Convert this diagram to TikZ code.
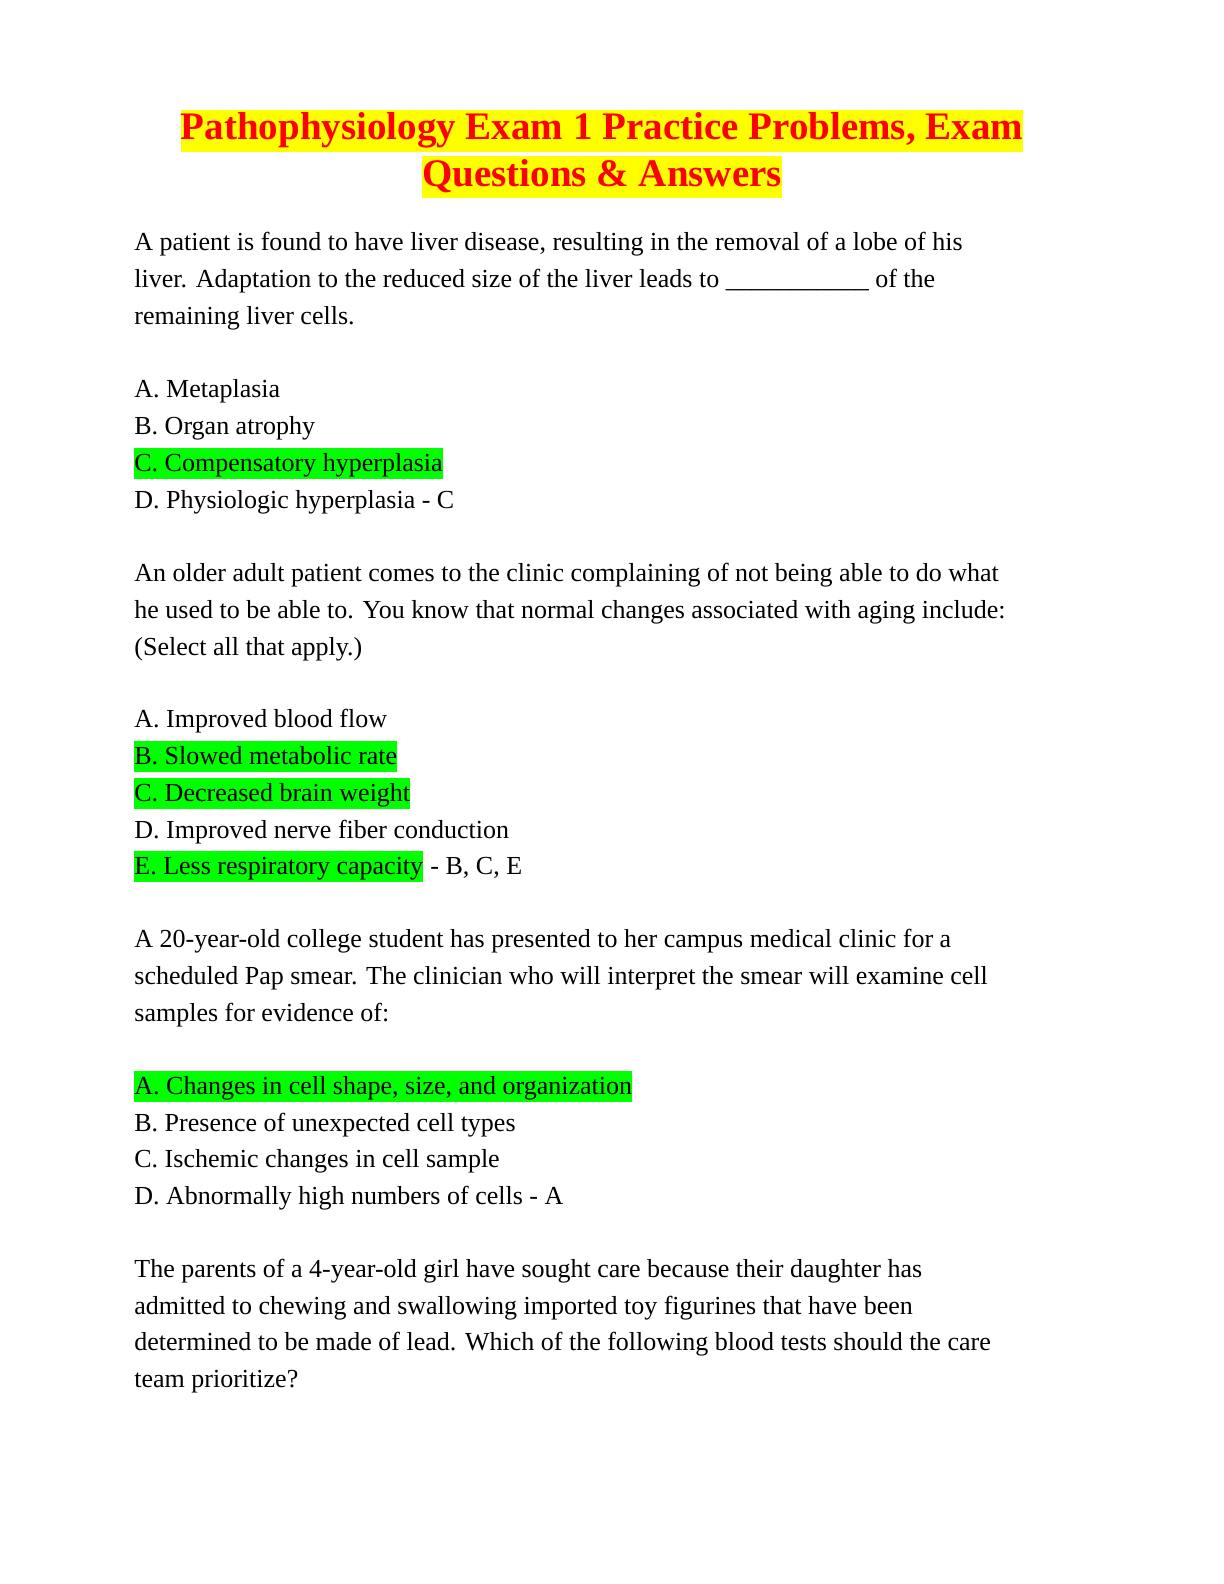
\documentclass[tikz,border=0pt]{standalone}
\usepackage{fontspec}
\setmainfont{Liberation Serif}
\usetikzlibrary{positioning}
\definecolor{hlgreen}{rgb}{0,1,0}
\definecolor{hlyellow}{rgb}{1,1,0}
\definecolor{titlered}{rgb}{1,0,0}

\begin{document}
\begin{tikzpicture}[x=1pt,y=1pt,
                    every node/.style={inner sep=0pt,anchor=base west,font=\fontsize{13}{16}\selectfont},
                    hl/.style={fill=hlgreen,text height=11.5pt,text depth=4pt},
                    title/.style={anchor=base,fill=hlyellow,text=titlered,inner xsep=0pt,
                                  text height=15pt,text depth=6pt,font=\fontsize{19.5}{23}\bfseries\selectfont}]
\useasboundingbox (0,0) rectangle (612,-792);

        \node[title] (t1) at (301,-70)  {Pathophysiology Exam 1 Practice Problems, Exam};
        \node[title] (t2) at (301,-93)  {Questions \& Answers};

        % question 1
        \node (q1a) at (67,-125)   {A patient is found to have liver disease, resulting in the removal of a lobe of his};
        \node (q1b) at (67,-143.5) {liver. Adaptation to the reduced size of the liver leads to \_\_\_\_\_\_\_\_\_\_\_ of the};
        \node (q1c) at (67,-162)   {remaining liver cells.};
        \node (a1a) at (67,-198.5) {A. Metaplasia};
        \node (a1b) at (67,-217)   {B. Organ atrophy};
        \node[hl] (a1c) at (67,-235.5) {C. Compensatory hyperplasia};
        \node (a1d) at (67,-254)   {D. Physiologic hyperplasia - C};

        % question 2
        \node (q2a) at (67,-290.5) {An older adult patient comes to the clinic complaining of not being able to do what};
        \node (q2b) at (67,-309)   {he used to be able to. You know that normal changes associated with aging include:};
        \node (q2c) at (67,-327.5) {(Select all that apply.)};
        \node (a2a) at (67,-363.5) {A. Improved blood flow};
        \node[hl] (a2b) at (67,-382)   {B. Slowed metabolic rate};
        \node[hl] (a2c) at (67,-400.5) {C. Decreased brain weight};
        \node (a2d) at (67,-419)   {D. Improved nerve fiber conduction};
        \node[hl] (a2e) at (67,-437) {E. Less respiratory capacity};
        \node (a2k) [right=0pt of a2e.base east,anchor=base west] {\ - B, C, E};

        % question 3
        \node (q3a) at (67,-473.5) {A 20-year-old college student has presented to her campus medical clinic for a};
        \node (q3b) at (67,-492)   {scheduled Pap smear. The clinician who will interpret the smear will examine cell};
        \node (q3c) at (67,-510.5) {samples for evidence of:};
        \node[hl] (a3a) at (67,-547) {A. Changes in cell shape, size, and organization};
        \node (a3b) at (67,-565.5) {B. Presence of unexpected cell types};
        \node (a3c) at (67,-583.5) {C. Ischemic changes in cell sample};
        \node (a3d) at (67,-602)   {D. Abnormally high numbers of cells - A};

        % question 4
        \node (q4a) at (67,-638.5) {The parents of a 4-year-old girl have sought care because their daughter has};
        \node (q4b) at (67,-657)   {admitted to chewing and swallowing imported toy figurines that have been};
        \node (q4c) at (67,-675)   {determined to be made of lead. Which of the following blood tests should the care};
        \node (q4d) at (67,-693.5) {team prioritize?};
\end{tikzpicture}
\end{document}
